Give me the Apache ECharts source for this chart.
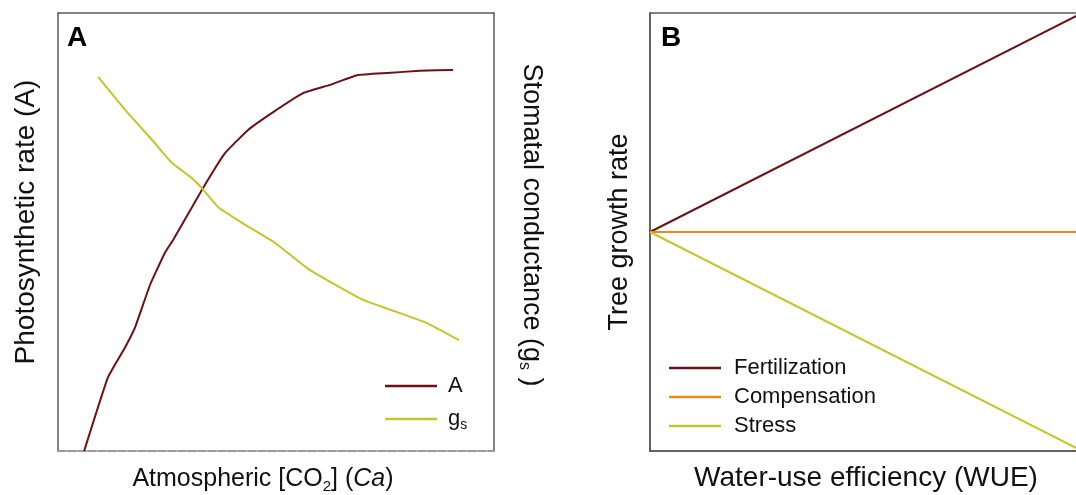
<!DOCTYPE html>
<html>
<head>
<meta charset="utf-8">
<script src="https://cdn.jsdelivr.net/npm/echarts@6/dist/echarts.min.js"></script>
<style>
html,body{margin:0;padding:0;background:#fff;}
#chart{width:1076px;height:495px;}
</style>
</head>
<body>
<div id="chart"></div>
<script>
// Panel A: relative units (0-100 on each axis)
const caA = [6.0, 11.5, 15.4, 17.7, 21.1, 24.5, 26.4, 33.0, 38.3, 43.6, 49.1, 56.2, 62.4, 68.6, 75.5, 83.0, 90.6];
const rateA = [0, 16.9, 23.7, 28.3, 37.9, 45.2, 48.2, 59.6, 68.0, 73.3, 77.2, 81.7, 83.6, 85.8, 86.3, 86.8, 87.0];
const caGs = [9.2, 15.4, 21.6, 26.1, 30.7, 33.0, 36.7, 42.2, 49.8, 57.8, 70.0, 77.8, 84.6, 92.0];
const gsVals = [85.4, 77.9, 71.0, 65.8, 62.3, 60.0, 55.7, 52.1, 47.5, 41.3, 34.5, 31.7, 29.2, 25.3];
// Panel B
const wue = [0, 1];
const fertilization = [0, 1];
const compensation = [0, 0];
const stress = [0, -1];
const seriesNamesA = ['A', 'gs'];
const seriesNamesB = ['Fertilization', 'Compensation', 'Stress'];

const FONT = 'Liberation Sans, Arial, sans-serif';
const C_RED = '#6B1117';
const C_YEL = '#C3C52B';
const C_ORG = '#EC8A1F';
const BORDER = '#595959';

function zip(xs, ys) { return xs.map((x, i) => [x, ys[i]]); }

const chart = echarts.init(document.getElementById('chart'));

const solidLine = {show: true, onZero: false, lineStyle: {color: BORDER, width: 1.5}};
const hidden = {axisTick: {show: false}, axisLabel: {show: false}, splitLine: {show: false}};
function nameStyle(size, extra) {
  return Object.assign({fontFamily: FONT, fontSize: size, color: '#111'}, extra || {});
}

chart.setOption({
  animation: false,
  backgroundColor: '#fff',
  title: [
    {text: 'A', left: 67, top: 24, padding: 0, textStyle: {fontFamily: FONT, fontSize: 28, fontWeight: 'bold', color: '#000'}},
    {text: 'B', left: 661, top: 24, padding: 0, textStyle: {fontFamily: FONT, fontSize: 28, fontWeight: 'bold', color: '#000'}}
  ],
  grid: [
    {left: 58, top: 13, width: 436, height: 438, show: false, outerBoundsMode: 'none', containLabel: false},
    {left: 650, top: 13, width: 432, height: 438, show: true, borderColor: BORDER, borderWidth: 1.5,
      backgroundColor: 'transparent', outerBoundsMode: 'none', containLabel: false}
  ],
  legend: [
    {
      data: seriesNamesA, left: 380, top: 370, orient: 'vertical',
      icon: 'rect', itemWidth: 52, itemHeight: 2.5, itemGap: 11,
      formatter: n => n === 'gs' ? 'g{sub|s}' : n,
      textStyle: {fontFamily: FONT, fontSize: 22, color: '#111', lineHeight: 22, padding: [0, 0, 0, 6],
        rich: {sub: {fontFamily: FONT, fontSize: 14, padding: [12, 0, 0, 0]}}}
    },
    {
      data: seriesNamesB, left: 664, top: 352, orient: 'vertical',
      icon: 'rect', itemWidth: 52, itemHeight: 2.5, itemGap: 7,
      textStyle: {fontFamily: FONT, fontSize: 22, color: '#111', lineHeight: 22, padding: [0, 0, 0, 8]}
    }
  ],
  xAxis: [
    Object.assign({
      gridIndex: 0, type: 'value', min: 0, max: 100, position: 'bottom',
      axisLine: {show: true, onZero: false, lineStyle: {color: '#9a9a9a', width: 2, type: [8, 2]}},
      name: 'Atmospheric [CO{sub|2}] ({it|Ca})', nameLocation: 'middle', nameGap: 14,
      nameTextStyle: nameStyle(25, {padding: [0, 26, 0, 0],
        rich: {sub: {fontFamily: FONT, fontSize: 15, padding: [14, 0, 0, 0]},
               it: {fontFamily: FONT, fontSize: 25, fontStyle: 'italic'}}})
    }, hidden),
    Object.assign({gridIndex: 0, type: 'value', min: 0, max: 100, position: 'top', axisLine: solidLine}, hidden),
    Object.assign({
      gridIndex: 1, type: 'value', min: 0, max: 1, position: 'bottom', axisLine: solidLine,
      name: 'Water-use efficiency (WUE)', nameLocation: 'middle', nameGap: 13, nameTextStyle: nameStyle(28)
    }, hidden)
  ],
  yAxis: [
    Object.assign({
      gridIndex: 0, type: 'value', min: 0, max: 100, position: 'left', axisLine: solidLine,
      name: 'Photosynthetic rate (A)', nameLocation: 'middle', nameGap: 18,
      nameTextStyle: nameStyle(28, {padding: [0, 0, 0, 20]})
    }, hidden),
    Object.assign({
      gridIndex: 0, type: 'value', min: 0, max: 100, position: 'right', axisLine: solidLine,
      name: 'Stomatal conductance (g{sub|s} )', nameLocation: 'middle', nameGap: 22, nameRotate: -90,
      nameTextStyle: nameStyle(27, {padding: [0, 14, 0, 0],
        rich: {sub: {fontFamily: FONT, fontSize: 16, padding: [14, 0, 0, 0]}}})
    }, hidden),
    Object.assign({
      gridIndex: 1, type: 'value', min: -1, max: 1, position: 'left', axisLine: solidLine,
      name: 'Tree growth rate', nameLocation: 'middle', nameGap: 17, nameTextStyle: nameStyle(27)
    }, hidden)
  ],
  series: [
    {name: 'A', type: 'line', xAxisIndex: 0, yAxisIndex: 0, data: zip(caA, rateA), smooth: 0.12,
      showSymbol: false, symbol: 'none', color: C_RED, lineStyle: {color: C_RED, width: 2}},
    {name: 'gs', type: 'line', xAxisIndex: 0, yAxisIndex: 1, data: zip(caGs, gsVals), smooth: 0.12,
      showSymbol: false, symbol: 'none', color: C_YEL, lineStyle: {color: C_YEL, width: 2}},
    {name: 'Fertilization', type: 'line', xAxisIndex: 2, yAxisIndex: 2, data: zip(wue, fertilization),
      symbol: 'none', color: C_RED, lineStyle: {color: C_RED, width: 2}},
    {name: 'Compensation', type: 'line', xAxisIndex: 2, yAxisIndex: 2, data: zip(wue, compensation),
      symbol: 'none', color: C_ORG, lineStyle: {color: C_ORG, width: 2}},
    {name: 'Stress', type: 'line', xAxisIndex: 2, yAxisIndex: 2, data: zip(wue, stress),
      symbol: 'none', color: C_YEL, lineStyle: {color: C_YEL, width: 2}}
  ]
});
</script>
</body>
</html>
